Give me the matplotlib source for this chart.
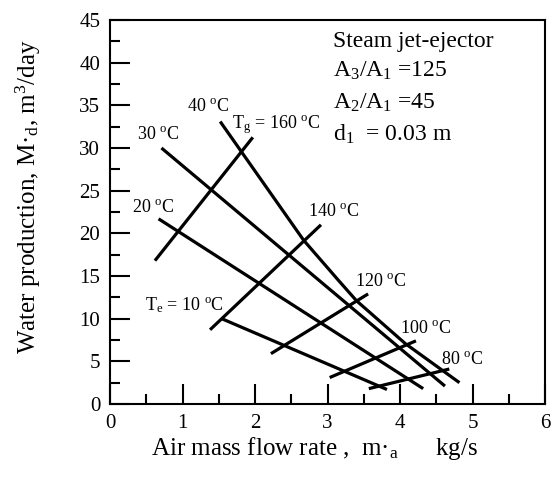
import matplotlib
matplotlib.use('Agg')
import matplotlib.pyplot as plt
from matplotlib.ticker import MultipleLocator

plt.rcParams['font.family'] = ['Liberation Serif', 'DejaVu Serif']
plt.rcParams['mathtext.fontset'] = 'custom'
plt.rcParams['mathtext.rm'] = 'Liberation Serif'
plt.rcParams['mathtext.it'] = 'Liberation Serif:italic'

# constant evaporator temperature lines (Te)
te_labels = ['10', '20', '30', '40']
te_x = [[1.54, 3.82],
        [0.67, 4.32],
        [0.71, 4.62],
        [1.52, 2.67, 3.15, 3.40, 4.07, 4.82]]
te_y = [[10.0, 1.7],
        [21.7, 1.8],
        [30.0, 2.1],
        [33.1, 19.2, 14.5, 12.1, 7.1, 2.5]]

# constant generator temperature lines (Tg)
tg_labels = ['160', '140', '120', '100', '80']
tg_x = [[0.62, 1.97], [1.38, 2.91], [2.22, 3.56], [3.03, 4.22], [3.57, 4.68]]
tg_y = [[16.8, 31.25], [8.7, 21.0], [5.9, 12.9], [3.1, 7.4], [1.8, 4.1]]

fig = plt.figure(figsize=(5.53, 4.8), dpi=100)
ax = fig.add_axes([110 / 553, 76 / 480, 435 / 553, 384 / 480])

for xs, ys in zip(te_x, te_y):
    ax.plot(xs, ys, color='black', lw=2.3, solid_capstyle='butt')
for xs, ys in zip(tg_x, tg_y):
    ax.plot(xs, ys, color='black', lw=2.3, solid_capstyle='butt')

# curve labels
lab = dict(fontsize=13, va='center', ha='left')
ax.text(0.48, 11.6, r'T$_{\rm e}$ = 10 $^{\rm o}$C', **lab)
ax.text(0.30, 23.0, r'20 $^{\rm o}$C', **lab)
ax.text(0.37, 31.6, r'30 $^{\rm o}$C', **lab)
ax.text(1.06, 34.9, r'40 $^{\rm o}$C', **lab)
ax.text(1.68, 32.7, r'T$_{\rm g}$ = 160 $^{\rm o}$C', **lab)
ax.text(2.73, 22.5, r'140 $^{\rm o}$C', **lab)
ax.text(3.38, 14.3, r'120 $^{\rm o}$C', **lab)
ax.text(4.00, 8.8, r'100 $^{\rm o}$C', **lab)
ax.text(4.56, 5.2, r'80 $^{\rm o}$C', **lab)

# design parameters
box = dict(fontsize=17, va='center', ha='left')
ax.text(3.08, 42.5, 'Steam jet-ejector', **box)
ax.text(3.08, 39.0, r'A$_3$/A$_1$ =125', **box)
ax.text(3.08, 35.3, r'A$_2$/A$_1$ =45', **box)
ax.text(3.08, 31.6, r'd$_1$  = 0.03 m', **box)

ax.set_xlim(0, 6)
ax.set_ylim(0, 45)
ax.xaxis.set_major_locator(MultipleLocator(1))
ax.xaxis.set_minor_locator(MultipleLocator(0.5))
ax.yaxis.set_major_locator(MultipleLocator(5))
ax.yaxis.set_minor_locator(MultipleLocator(2.5))
ax.tick_params(which='both', direction='in', top=False, right=False,
               labelsize=15, width=1.5, pad=7)
ax.tick_params(which='major', length=14.5)
ax.tick_params(which='minor', length=7.5)
for s in ax.spines.values():
    s.set_linewidth(1.5)

ax.set_xlabel('Air mass flow rate ,  m\u00b7$_{\\rm a}$      kg/s', fontsize=18)
ax.set_ylabel('Water production, M\u00b7$_{\\rm d}$, m$^3$/day', fontsize=18)
ax.xaxis.set_label_coords(0.47, -0.082)
ax.yaxis.set_label_coords(-0.155, 0.54)

fig.savefig('out.png', dpi=100)
